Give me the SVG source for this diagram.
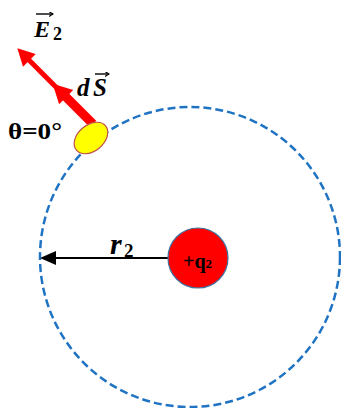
<svg xmlns="http://www.w3.org/2000/svg" width="341" height="408" viewBox="0 0 341 408">
  <style>
    .lbl { font-family: "Liberation Serif", "Times New Roman", serif; font-weight: bold; fill: #000; }
    .it { font-style: italic; }
    .vec { stroke: #000; stroke-width: 1.4; fill: none; }
  </style>
  <defs>
    <marker id="accentHead" markerWidth="5" markerHeight="5" refX="4" refY="2.5" orient="auto" markerUnits="userSpaceOnUse">
      <path d="M0,0 L4,2.5 L0,5" fill="none" stroke="#000" stroke-width="1.1"/>
    </marker>
  </defs>
  <rect width="341" height="408" fill="#fff"/>

  <g id="gaussian-surface">
    <circle cx="190" cy="257" r="150" fill="none" stroke="#1f73c2" stroke-width="2.5" stroke-dasharray="8 4"/>
  </g>

  <g id="connectors">
    <line x1="170" y1="258" x2="55" y2="258" stroke="#000" stroke-width="2"/>
    <path d="M40,258 L56,251 L56,265 Z" fill="#000"/>
    <g transform="translate(93,124) rotate(-135)">
      <rect x="0" y="-4.5" width="41" height="9" fill="#ff0000"/>
      <path d="M38,-10 L57,0 L38,10 Z" fill="#ff0000"/>
      <rect x="50" y="-2.5" width="42" height="5" fill="#ff0000"/>
      <path d="M90,-9 L107,0 L90,9 Z" fill="#ff0000"/>
    </g>
  </g>

  <g id="surface-element">
    <ellipse cx="91" cy="138" rx="19" ry="13" transform="rotate(-40 91 138)" fill="#ffff00" stroke="#c0504d" stroke-width="1.2"/>
  </g>

  <g id="charge">
    <circle cx="198" cy="258" r="30" fill="#ff0000" stroke="#41719c" stroke-width="1.2"/>
    <text class="lbl" x="183" y="268" font-size="20">+q<tspan font-size="13">2</tspan></text>
  </g>

  <g id="labels">
    <text class="lbl it" x="34" y="37" font-size="24">E</text>
    <text class="lbl" x="53" y="40" font-size="18">2</text>
    <line class="vec" x1="36" y1="14" x2="53" y2="14" marker-end="url(#accentHead)"/>

    <text class="lbl it" x="77" y="96" font-size="25">d</text>
    <text class="lbl it" x="93" y="96" font-size="25">S</text>
    <line class="vec" x1="95" y1="74" x2="109" y2="74" marker-end="url(#accentHead)"/>

    <text class="lbl" x="8" y="139" font-size="24" textLength="54" lengthAdjust="spacingAndGlyphs">θ=0°</text>

    <text class="lbl it" x="110" y="254" font-size="30">r</text>
    <text class="lbl" x="124" y="257" font-size="19">2</text>
  </g>
</svg>
